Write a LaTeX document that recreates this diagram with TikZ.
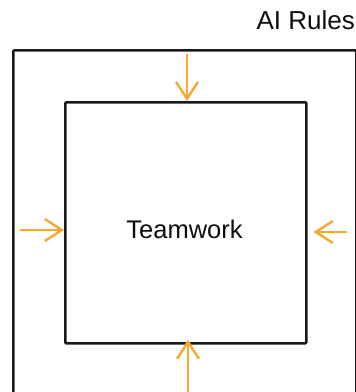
\documentclass[tikz,border=0pt]{standalone}
\usepackage{fontspec}
\setmainfont{Liberation Sans}
\usetikzlibrary{arrows.meta}
\definecolor{pushorange}{HTML}{F7A733}
\tikzset{
  frame/.style={draw=black!90, line width=2.6pt, rounded corners=1pt},
  push/.style={draw=pushorange, line width=2.4pt,
    -{Straight Barb[length=17pt,width=22pt,line width=2.4pt]}},
  lbl/.style={inner sep=0pt, text=black!95}
}
\begin{document}
\begin{tikzpicture}[x=1pt,y=-1pt]
  \useasboundingbox (0,0) rectangle (356,392);
  \clip (0,0) rectangle (356,392);
  % outer frame, open at the bottom
  \node[frame, minimum width=343pt, minimum height=400pt, anchor=north west, inner sep=0pt] (rules) at (12,49) {};
  \node[lbl, font=\fontsize{26}{30}\selectfont, anchor=base east] (rulestxt) at (355,29) {AI Rules};
  % inner box
  \node[frame, minimum width=241pt, minimum height=241pt, anchor=north west, inner sep=0pt] (team) at (64,101) {};
  \node[lbl, font=\fontsize{25.5}{30}\selectfont, anchor=base] (teamtxt) at (184.5,238) {Teamwork};
  % arrow tails
  \coordinate (tTop) at (187,54);
  \coordinate (tBot) at (188,392);
  \coordinate (tLeft) at (20,230);
  \coordinate (tRight) at (347,232);
  \draw[push] (tTop) -- (tTop |- team.north);
  \draw[push] (tBot) -- ([yshift=5pt]tBot |- team.south);
  \draw[push] (tLeft) -- (tLeft -| team.west);
  \draw[push] (tRight) -- ([xshift=6pt]tRight -| team.east);
\end{tikzpicture}
\end{document}
